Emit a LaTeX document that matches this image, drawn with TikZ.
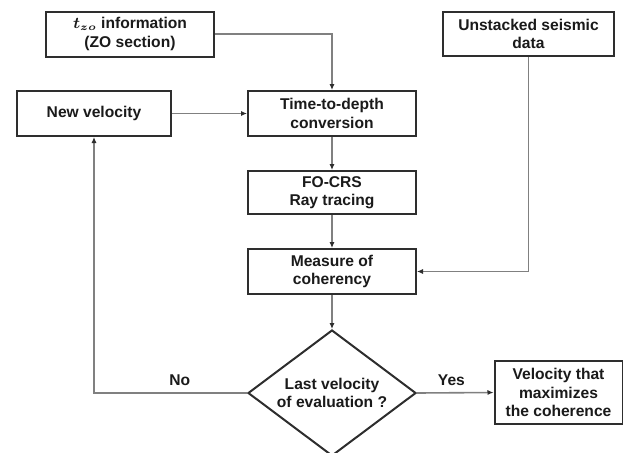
\documentclass[tikz,border=0pt]{standalone}
\usepackage{amsmath}
\usepackage{fontspec}
\setmainfont{Liberation Sans}
\usetikzlibrary{arrows.meta,shapes.geometric}
\definecolor{rahmen}{HTML}{2E2E2E}
\definecolor{linie}{HTML}{808080}
\definecolor{schrift}{HTML}{1A1A1A}
\tikzset{
  kasten/.style={draw=rahmen,line width=1pt,fill=white,align=center,inner sep=1pt,text=schrift,font=\bfseries\fontsize{7.8}{9.2}\selectfont},
  raute/.style={kasten,diamond,aspect=1.33,inner sep=0pt,minimum width=84pt,minimum height=63pt},
  pfeil/.style={-{Latex[length=3pt,width=2.6pt,color=rahmen]},linie,line width=0.8pt},
  marke/.style={text=schrift,font=\bfseries\fontsize{7.8}{9.2}\selectfont},
}

\begin{document}
\begin{tikzpicture}[x=0.5pt,y=-0.5pt]
  \useasboundingbox (0,0) rectangle (623,452);
  \node[kasten,minimum width=84pt,minimum height=22.5pt] (tzo) at (130,34) {$\boldsymbol{t}_{\boldsymbol{zo}}$ information\\(ZO section)};
  \node[kasten,minimum width=85.5pt,minimum height=22pt] (unst) at (528.5,34) {Unstacked seismic\\data};
  \node[kasten,minimum width=77pt,minimum height=22.5pt] (newvel) at (94,113.5) {New velocity};
  \node[kasten,minimum width=84pt,minimum height=22.5pt] (ttd) at (332,113.5) {Time-to-depth\\conversion};
  \node[kasten,minimum width=84pt,minimum height=21.5pt] (focrs) at (332,192.5) {FO-CRS\\Ray tracing};
  \node[kasten,minimum width=84pt,minimum height=22.5pt] (meas) at (332,271.5) {Measure of\\coherency};
  \node[raute] (last) at (332,393) {Last velocity\\of evaluation ?};
  \node[kasten,minimum width=64pt,minimum height=31.5pt] (velmax) at (558.5,392.5) {Velocity that\\maximizes\\the coherence};
  % connectors
  \draw[pfeil] (tzo.east) -| (ttd.north);
  \draw[pfeil] (newvel.east) -- (ttd.west);
  \draw[pfeil] (ttd) -- (focrs);
  \draw[pfeil] (focrs) -- (meas);
  \draw[pfeil] (unst.south) |- (meas.east);
  \draw[pfeil] (meas) -- (last);
  \draw[pfeil] (last.west) -| node[marke,above,pos=0.22]{No} (newvel.south);
  \draw[pfeil] (last.east) -- node[marke,above,pos=0.45]{Yes} (velmax.west);
\end{tikzpicture}
\end{document}
